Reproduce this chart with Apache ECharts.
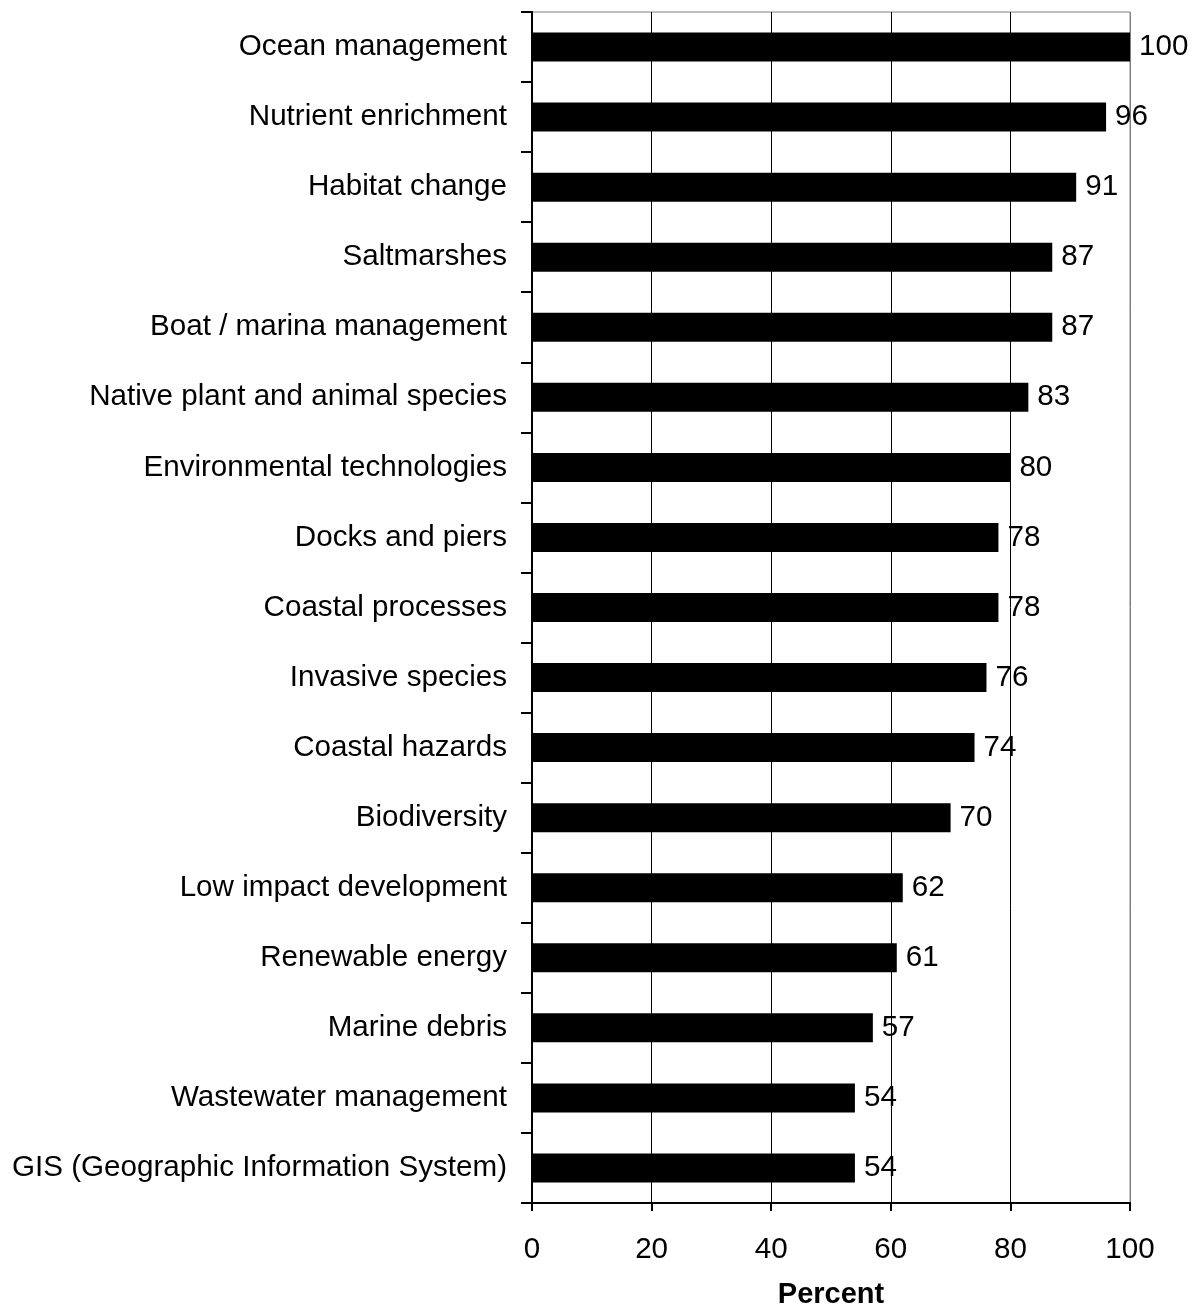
<!DOCTYPE html>
<html>
<head>
<meta charset="utf-8">
<script src="https://cdn.jsdelivr.net/npm/echarts@6/dist/echarts.min.js"></script>
<style>
  html, body { margin: 0; padding: 0; background: #fff; }
  #chart { width: 1195px; height: 1308px; }
</style>
</head>
<body>
<div id="chart"></div>
<script>
// Topics, top to bottom
const categories = [
  'Ocean management',
  'Nutrient enrichment',
  'Habitat change',
  'Saltmarshes',
  'Boat / marina management',
  'Native plant and animal species',
  'Environmental technologies',
  'Docks and piers',
  'Coastal processes',
  'Invasive species',
  'Coastal hazards',
  'Biodiversity',
  'Low impact development',
  'Renewable energy',
  'Marine debris',
  'Wastewater management',
  'GIS (Geographic Information System)'
];

// Percent of respondents per topic
const percentValues = [100, 96, 91, 87, 87, 83, 80, 78, 78, 76, 74, 70, 62, 61, 57, 54, 54];

// Value axis ticks
const xTicks = [0, 20, 40, 60, 80, 100];

const FONT = '"Liberation Sans", Arial, sans-serif';
const FS = 29.6;

const chart = echarts.init(document.getElementById('chart'), null, { renderer: 'canvas' });

chart.setOption({
  animation: false,
  backgroundColor: '#ffffff',
  textStyle: { fontFamily: FONT },
  grid: {
    left: 532,
    right: 65,
    top: 12,
    bottom: 105,
    show: true,
    borderColor: '#808080',
    borderWidth: 1,
    containLabel: false,
    outerBoundsMode: 'none'
  },
  xAxis: {
    type: 'value',
    min: xTicks[0],
    max: xTicks[xTicks.length - 1],
    interval: xTicks[1] - xTicks[0],
    name: 'Percent',
    nameLocation: 'middle',
    nameGap: 77,
    nameTextStyle: { fontFamily: FONT, fontSize: 29, fontWeight: 'bold', color: '#000' },
    axisLine: { show: true, lineStyle: { color: '#000', width: 2 } },
    axisTick: { show: true, length: 8, lineStyle: { color: '#000', width: 2 } },
    axisLabel: { fontFamily: FONT, fontSize: FS, color: '#000', margin: 32 },
    splitLine: {
      show: true,
      lineStyle: { color: ['#000', '#000', '#000', '#000', '#000', '#808080'], width: 1 }
    }
  },
  yAxis: {
    type: 'category',
    data: categories,
    inverse: true,
    axisLine: { show: true, lineStyle: { color: '#000', width: 2 } },
    axisTick: { show: true, alignWithLabel: false, length: 11, lineStyle: { color: '#000', width: 2 } },
    axisLabel: { fontFamily: FONT, fontSize: FS, color: '#000', margin: 25, padding: [4, 0, 0, 0] },
    splitLine: { show: false }
  },
  series: [{
    type: 'bar',
    data: percentValues,
    barWidth: 29,
    itemStyle: { color: '#000' },
    label: {
      show: true,
      position: 'right',
      distance: 9,
      padding: [4, 0, 0, 0],
      fontFamily: FONT,
      fontSize: FS,
      color: '#000'
    },
    z: 3
  }]
});
</script>
</body>
</html>
